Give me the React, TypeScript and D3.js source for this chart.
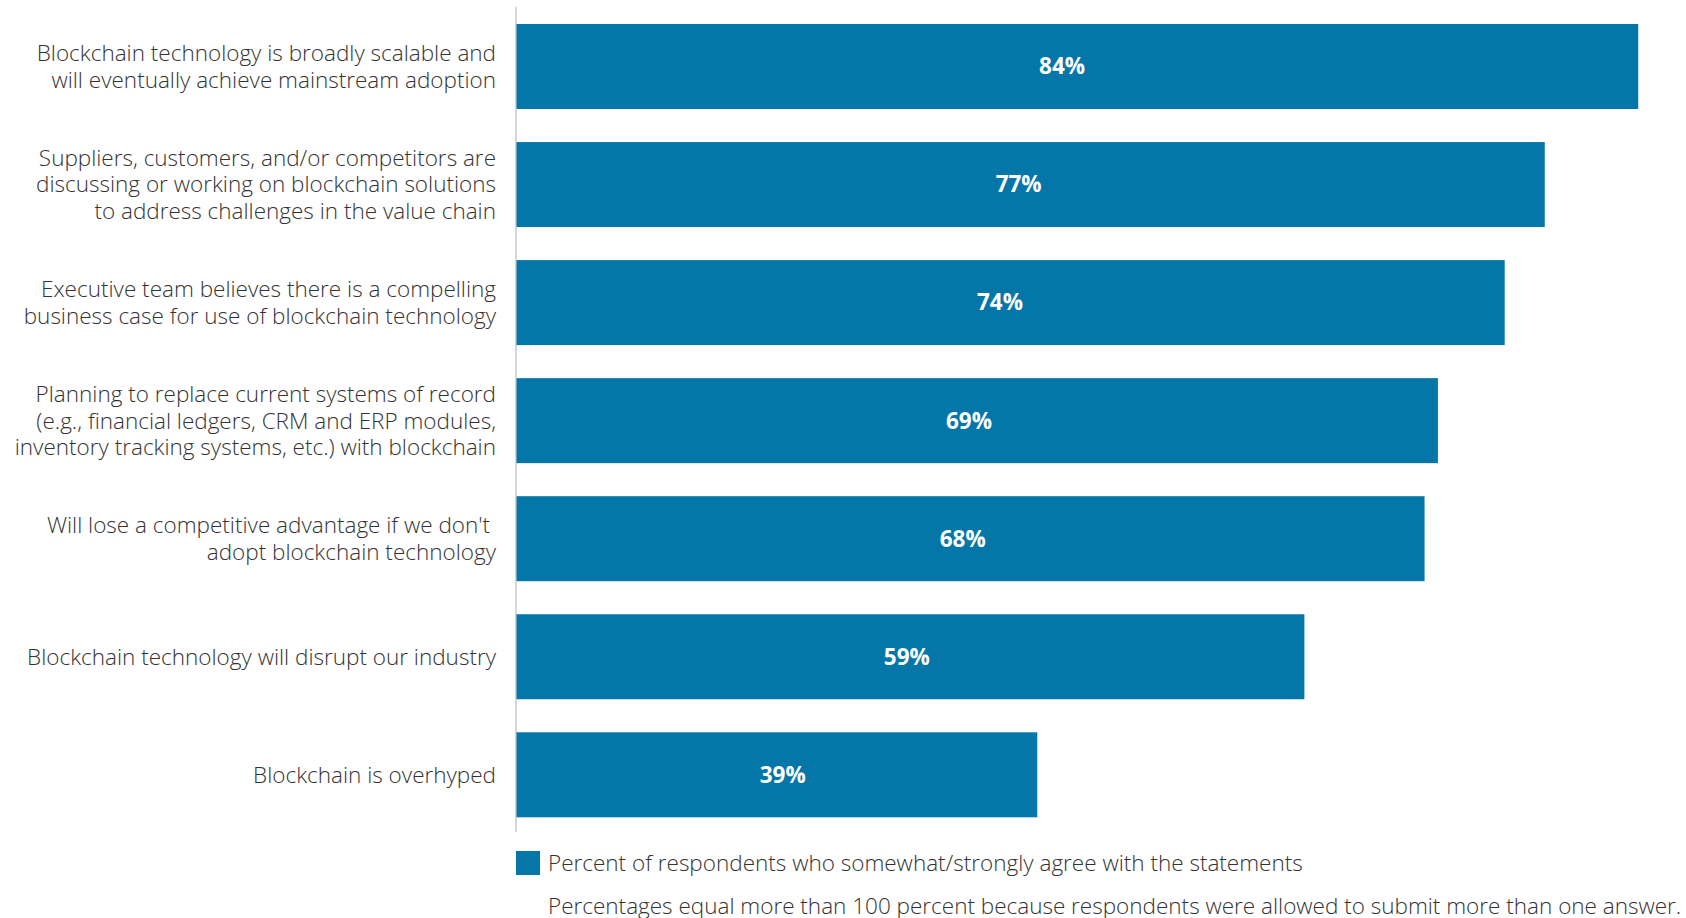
import React from "react";
import * as d3 from "d3";

const categories: string[][] = [
  ["Blockchain technology is broadly scalable and", "will eventually achieve mainstream adoption"],
  ["Suppliers, customers, and/or competitors are", "discussing or working on blockchain solutions", "to address challenges in the value chain"],
  ["Executive team believes there is a compelling", "business case for use of blockchain technology"],
  ["Planning to replace current systems of record", "(e.g., financial ledgers, CRM and ERP modules,", "inventory tracking systems, etc.) with blockchain"],
  ["Will lose a competitive advantage if we don't ", "adopt blockchain technology"],
  ["Blockchain technology will disrupt our industry"],
  ["Blockchain is overhyped"],
];
const values: number[] = [84, 77, 74, 69, 68, 59, 39];
const legendLabel = "Percent of respondents who somewhat/strongly agree with the statements";
const footnote = "Percentages equal more than 100 percent because respondents were allowed to submit more than one answer.";

const W = 1686;
const H = 918;
const BLUE = "#0576a8";
const FONT = "'Open Sans', 'Noto Sans', sans-serif";
const FS = 22.5;

export default function App() {
  const x = d3.scaleLinear().domain([0, 100]).range([516.5, 1851.9]);
  const y = d3
    .scaleBand<number>()
    .domain(d3.range(values.length))
    .range([24, 817.3])
    .paddingInner(0.28)
    .paddingOuter(0);
  const bw = y.bandwidth();
  const lineH = 26.8;

  return (
    <svg
      width={W}
      height={H}
      style={{ position: "absolute", left: 0, top: 0, background: "#fff" }}
    >
      <line x1={516} x2={516} y1={7} y2={832} stroke="#d6d6d6" strokeWidth={2} />
      {values.map((v, i) => {
        const y0 = y(i) as number;
        const cy = y0 + bw / 2;
        const lines = categories[i];
        return (
          <g key={i}>
            <rect x={x(0)} y={y0} width={x(v) - x(0)} height={bw} fill={BLUE} />
            <text
              x={x(v * 0.465) + 24}
              y={cy}
              dy="0.35em"
              textAnchor="middle"
              fill="#fff"
              fontFamily={FONT}
              fontWeight={700}
              fontSize={FS}
            >
              {d3.format(".0f")(v)}%
            </text>
            <text
              textAnchor="end"
              fill="#333"
              fontFamily={FONT}
              fontWeight={300}
              fontSize={FS}
            >
              {lines.map((l, j) => (
                <tspan
                  key={j}
                  x={496}
                  y={cy + (j - (lines.length - 1) / 2) * lineH}
                  dy="0.35em"
                  style={{ whiteSpace: "pre" }}
                >
                  {l}
                </tspan>
              ))}
            </text>
          </g>
        );
      })}
      <rect x={516} y={851} width={24} height={24} fill={BLUE} />
      <text x={548} y={863} dy="0.35em" fill="#333" fontFamily={FONT} fontWeight={300} fontSize={FS}>
        {legendLabel}
      </text>
      <text x={548} y={906.5} dy="0.35em" fill="#333" fontFamily={FONT} fontWeight={300} fontSize={FS}>
        {footnote}
      </text>
    </svg>
  );
}
